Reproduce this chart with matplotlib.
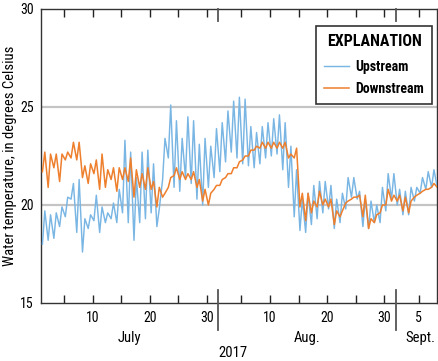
import numpy as np
import matplotlib
matplotlib.use("Agg")
import matplotlib.pyplot as plt
from matplotlib import font_manager
import matplotlib.transforms as mtransforms

# ---------------- data ----------------
# day index 0 = July 1, 2017
up_max = [19.7, 19.5, 19.6, 19.9, 20.4, 21.1, 21.3, 19.3, 19.5, 20.5,
          19.9, 19.6, 20.1, 20.8, 23.3, 22.7, 21.4, 22.7, 22.8, 22.1,
          19.8, 23.4, 25.1, 24.3, 23.4, 24.5, 24.3, 23.1, 23.4, 23.0,
          23.9, 24.2, 24.8, 25.3, 25.5, 25.4, 24.0, 23.7, 24.0, 24.2,
          24.4, 24.6, 24.2, 23.0, 21.8, 20.3, 20.6, 21.0, 21.2, 21.2,
          21.0, 20.3, 20.6, 21.4, 21.4, 20.7, 20.3, 20.2, 20.0, 20.9,
          21.6, 21.6, 20.8, 20.7, 20.9, 20.9, 21.4, 21.7, 21.8, 21.5]
up_min = [18.0, 18.2, 18.3, 18.9, 19.4, 20.3, 18.6, 17.6, 18.8, 19.2,
          18.6, 19.1, 19.3, 19.1, 19.6, 19.1, 18.2, 19.1, 19.3, 19.6,
          18.9, 21.3, 22.4, 20.9, 20.7, 21.4, 21.1, 20.3, 20.0, 20.9,
          21.4, 21.7, 22.2, 22.7, 22.4, 22.1, 22.0, 21.9, 22.1, 22.4,
          22.5, 22.6, 21.8, 20.9, 19.4, 18.7, 18.6, 19.0, 19.3, 19.6,
          19.8, 18.8, 19.1, 19.8, 20.4, 20.3, 18.9, 18.8, 19.1, 19.1,
          19.7, 20.3, 20.0, 19.5, 19.5, 20.2, 20.6, 20.8, 20.9, 20.9]
dn_max = [22.7, 22.6, 22.6, 22.6, 22.7, 23.2, 23.2, 22.0, 22.1, 22.3,
          22.6, 21.8, 21.9, 21.9, 21.9, 22.4, 21.8, 21.6, 21.9, 21.2,
          20.9, 20.6, 21.4, 21.9, 21.7, 21.6, 21.7, 21.3, 20.8, 20.6,
          21.0, 21.3, 21.6, 21.9, 22.2, 22.5, 22.8, 23.0, 23.2, 23.2,
          23.2, 23.2, 23.2, 22.6, 22.9, 20.6, 20.6, 20.2, 20.7, 20.3,
          20.3, 19.7, 19.7, 20.2, 20.4, 20.5, 20.5, 19.3, 19.5, 20.0,
          20.8, 20.5, 20.5, 20.4, 20.2, 20.5, 20.7, 20.8, 21.1, 20.9]
dn_min = [21.7, 20.9, 21.9, 21.2, 22.3, 22.4, 22.3, 21.4, 21.1, 21.6,
          20.8, 20.9, 21.3, 20.7, 21.3, 21.2, 20.4, 20.9, 20.8, 20.8,
          19.9, 20.4, 20.9, 21.5, 21.3, 21.3, 21.3, 20.9, 20.2, 20.0,
          20.8, 21.0, 21.4, 21.6, 21.9, 22.3, 22.5, 22.8, 22.9, 22.9,
          22.9, 22.9, 22.9, 22.4, 22.4, 19.9, 19.2, 19.6, 19.9, 20.0,
          19.9, 19.0, 19.4, 20.1, 20.3, 20.4, 19.4, 18.8, 19.1, 19.6,
          20.0, 20.2, 20.2, 19.7, 19.6, 20.4, 20.6, 20.8, 20.9, 20.9]
hour_min = 6.0    # approximate hour of daily minimum
hour_max = 16.0   # approximate hour of daily maximum

series_names = ["Upstream", "Downstream"]
series_colors = ["#7ab6e4", "#ee7f2d"]

month_names = ["July", "Aug.", "Sept."]
month_starts = [0, 31, 62]          # day index of first of month
month_label_pos = [15.5, 46.5, 66.3]
year_label = "2017"
x_end = 69.2
ytick_vals = [15, 20, 25, 30]

# ---------------- font ----------------
avail = {f.name for f in font_manager.fontManager.ttflist}
fam = [f for f in ["Liberation Sans Narrow", "Roboto Condensed", "Liberation Sans"] if f in avail]
plt.rcParams["font.family"] = fam + ["DejaVu Sans"]

def build(mx, mn):
    t, v = [], []
    for d in range(len(mx)):
        t += [d + hour_min / 24, d + hour_max / 24]
        v += [mn[d], mx[d]]
    return np.array(t), np.array(v)

fig = plt.figure(figsize=(4.39, 3.61), dpi=100)
ax = fig.add_axes([41 / 439, 1 - 303 / 361, 396 / 439, 294 / 361])

t_up, v_up = build(up_max, up_min)
t_dn, v_dn = build(dn_max, dn_min)
ax.plot(t_up, v_up, color=series_colors[0], lw=1.05, label=series_names[0], zorder=3)
ax.plot(t_dn, v_dn, color=series_colors[1], lw=1.1, label=series_names[1], zorder=4)

ax.set_xlim(0, x_end)
ax.set_ylim(15, 30)
for g in [20, 25]:
    ax.axhline(g, color="#c4c4c4", lw=1.6, zorder=1)

# x ticks every 5 days of month
tick_pos, tick_lab = [], []
for m, start in enumerate(month_starts):
    for dom in [5, 10, 15, 20, 25, 30]:
        if m == 2 and dom > 5:
            continue
        tick_pos.append(start + dom - 1)
        if (m < 2 and dom in (10, 20, 30)) or (m == 2 and dom == 5):
            tick_lab.append(str(dom))
        else:
            tick_lab.append("")
ax.set_xticks(tick_pos)
ax.set_xticklabels(tick_lab, fontsize=10)
ax.tick_params(axis="x", direction="in", length=6, width=1, top=True, pad=6, colors="#222222")
ax.set_yticks(ytick_vals)
ax.set_yticklabels([str(v) for v in ytick_vals], fontsize=10)
ax.tick_params(axis="y", direction="in", length=0, pad=5)
for lab in ax.get_xticklabels() + ax.get_yticklabels():
    lab.set_color("black")

for sp in ax.spines.values():
    sp.set_color("#333333")
    sp.set_linewidth(1.0)

# month separators
trans = mtransforms.blended_transform_factory(ax.transData, ax.transAxes)
for start in month_starts[1:]:
    ax.plot([start, start], [-27 / 294, 13 / 294], transform=trans, color="#555555", lw=1.3, clip_on=False, zorder=5)
    ax.plot([start, start], [1 - 12 / 294, 1], transform=trans, color="#555555", lw=1.3, clip_on=False, zorder=5)

for name, pos in zip(month_names, month_label_pos):
    ax.text(pos, -35 / 294, name, transform=trans, ha="center", va="center", fontsize=10.5)
ax.text(33.6, -50 / 294, year_label, transform=trans, ha="center", va="center", fontsize=10.5)

fig.text(10 / 439, 1 - 156 / 361, "Water temperature, in degrees Celsius", rotation=90,
         ha="center", va="center", fontsize=10.5)

leg = fig.legend(handles=ax.get_lines()[:2], loc="upper right",
                 bbox_to_anchor=(432 / 439, 1 - 26 / 361), borderaxespad=0,
                 title="EXPLANATION",
                 prop={"size": 10, "weight": "bold"},
                 title_fontproperties={"weight": "bold", "size": 11.5},
                 fancybox=False, framealpha=1, edgecolor="#333333", handlelength=1.8,
                 handletextpad=0.5, borderpad=0.55, labelspacing=0.6)
leg._legend_box.sep = 8
leg.get_frame().set_linewidth(1.2)

fig.savefig("out.png", dpi=100)
